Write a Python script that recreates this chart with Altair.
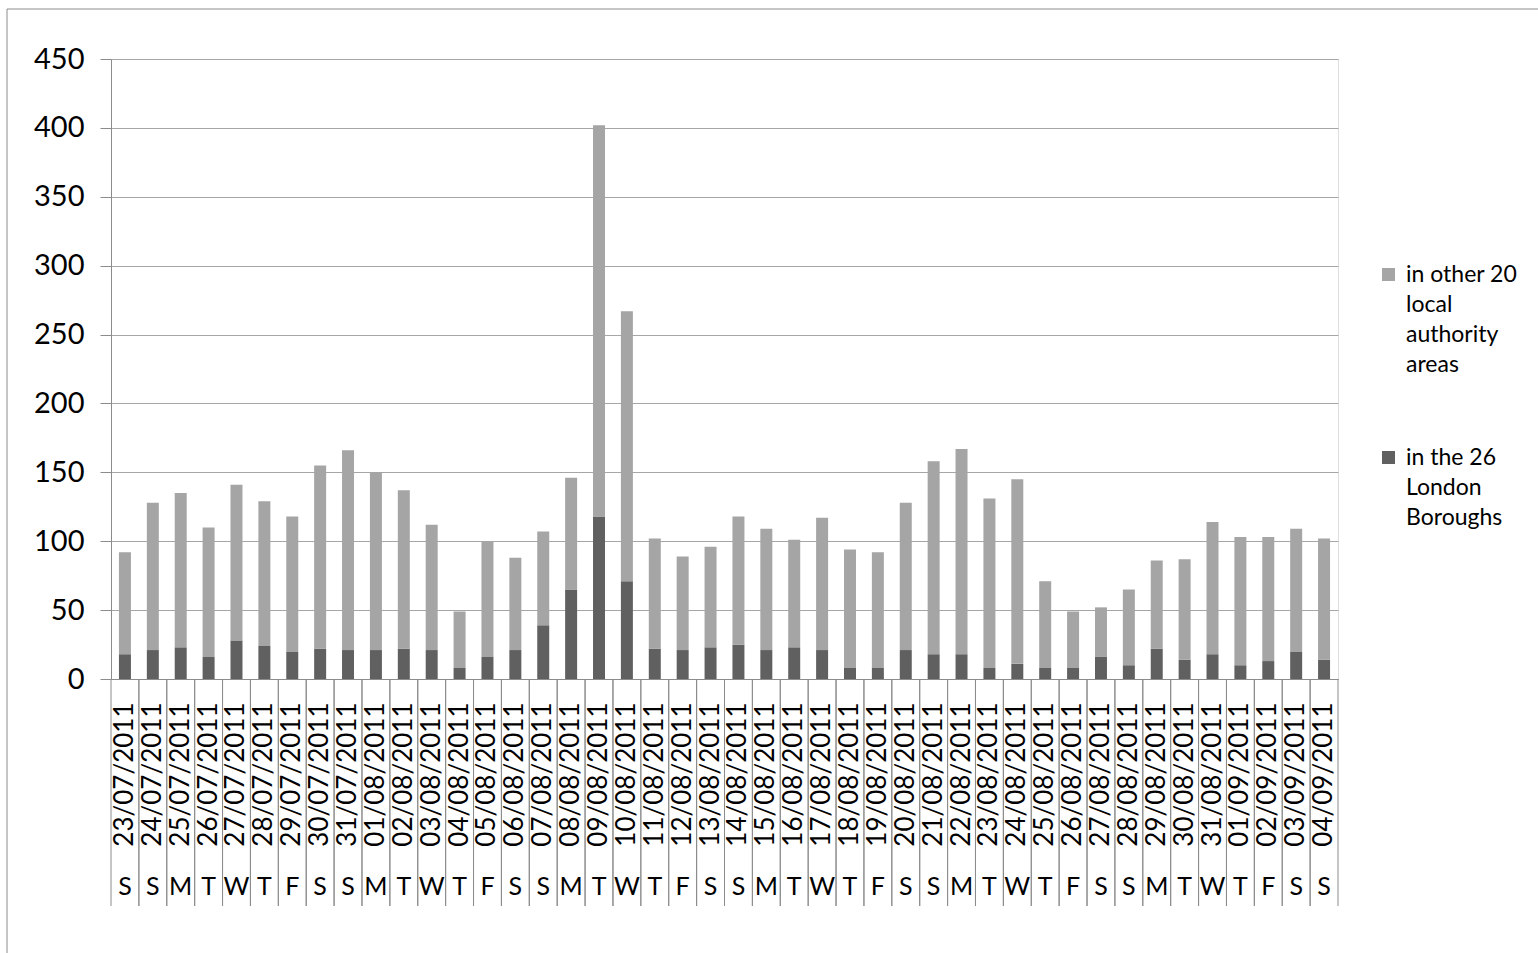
import altair as alt
import pandas as pd

# Daily counts, 23 July - 4 September 2011
dates = [
    "23/07/2011", "24/07/2011", "25/07/2011", "26/07/2011", "27/07/2011", "28/07/2011",
    "29/07/2011", "30/07/2011", "31/07/2011", "01/08/2011", "02/08/2011", "03/08/2011",
    "04/08/2011", "05/08/2011", "06/08/2011", "07/08/2011", "08/08/2011", "09/08/2011",
    "10/08/2011", "11/08/2011", "12/08/2011", "13/08/2011", "14/08/2011", "15/08/2011",
    "16/08/2011", "17/08/2011", "18/08/2011", "19/08/2011", "20/08/2011", "21/08/2011",
    "22/08/2011", "23/08/2011", "24/08/2011", "25/08/2011", "26/08/2011", "27/08/2011",
    "28/08/2011", "29/08/2011", "30/08/2011", "31/08/2011", "01/09/2011", "02/09/2011",
    "03/09/2011", "04/09/2011",
]
weekdays = [
    "S", "S", "M", "T", "W", "T", "F", "S", "S", "M", "T", "W", "T", "F", "S",
    "S", "M", "T", "W", "T", "F", "S", "S", "M", "T", "W", "T", "F", "S", "S",
    "M", "T", "W", "T", "F", "S", "S", "M", "T", "W", "T", "F", "S", "S",
]
london = [
    18, 21, 23, 16, 28, 24, 20, 22, 21, 21, 22, 21, 8, 16, 21, 39, 65, 118, 71, 22, 21, 23,
    25, 21, 23, 21, 8, 8, 21, 18, 18, 8, 11, 8, 8, 16, 10, 22, 14, 18, 10, 13, 20, 14,
]
other = [
    74, 107, 112, 94, 113, 105, 98, 133, 145, 129, 115, 91, 41, 84, 67, 68, 81, 284, 196, 80, 68, 73,
    93, 88, 78, 96, 86, 84, 107, 140, 149, 123, 134, 63, 41, 36, 55, 64, 73, 96, 93, 90, 89, 88,
]
series = ["in other 20\nlocal\nauthority\nareas", "in the 26\nLondon\nBoroughs"]
colors = ["#a5a5a5", "#606060"]
y_ticks = [0, 50, 100, 150, 200, 250, 300, 350, 400, 450]

FONT = "Lato"
W, H = 1227, 620

rows = []
for i, d in enumerate(dates):
    rows.append({"date": d, "series": series[1], "value": london[i], "stack": 0})
    rows.append({"date": d, "series": series[0], "value": other[i], "stack": 1})
df = pd.DataFrame(rows)
days = pd.DataFrame({"date": dates, "day": weekdays})

x_scale = alt.Scale(domain=dates, paddingInner=0, paddingOuter=0)

bars = alt.Chart(df).mark_bar(width={"band": 0.43}).encode(
    x=alt.X(
        "date:N",
        scale=x_scale,
        sort=dates,
        axis=alt.Axis(
            title=None,
            labelAngle=270,
            labelFont=FONT,
            labelFontSize=26,
            labelColor="#000000",
            labelPadding=23,
            ticks=False,
            domainColor="#8c8c8c",
            grid=False,
            labelOverlap=False,
        ),
    ),
    y=alt.Y(
        "value:Q",
        stack="zero",
        scale=alt.Scale(domain=[0, 450], nice=False),
        axis=alt.Axis(
            title=None,
            values=y_ticks,
            labelFont=FONT,
            labelFontSize=29,
            labelColor="#000000",
            labelPadding=16,
            tickSize=11,
            tickColor="#8c8c8c",
            domainColor="#8c8c8c",
            gridColor="#a6a6a6",
        ),
    ),
    color=alt.Color(
        "series:N",
        scale=alt.Scale(domain=series, range=colors),
        legend=alt.Legend(
            title=None,
            orient="none",
            legendX=1266,
            legendY=204,
            padding=0,
            symbolType="square",
            symbolSize=169,
            symbolStrokeWidth=0,
            labelFont=FONT,
            labelFontSize=23,
            labelColor="#000000",
            labelOffset=6,
            labelBaseline="middle",
            labelExpr="split(datum.label, '\\n')",
            rowPadding=69,
            labelLimit=300,
        ),
    ),
    order=alt.Order("stack:Q"),
)

# category separators running down through the label rows
sep_left = alt.Chart(days).mark_rule(color="#8c8c8c", strokeWidth=1).encode(
    x=alt.X("date:N", bandPosition=0, sort=dates),
    y=alt.value(H),
    y2=alt.value(H + 227),
)
sep_right = alt.Chart(days).mark_rule(color="#8c8c8c", strokeWidth=1).encode(
    x=alt.X("date:N", bandPosition=1, sort=dates),
    y=alt.value(H),
    y2=alt.value(H + 227),
)

# weekday initials under the dates
day_text = alt.Chart(days).mark_text(
    font=FONT, fontSize=25, color="#000000", baseline="middle"
).encode(
    x=alt.X("date:N", sort=dates),
    y=alt.value(H + 208),
    text="day:N",
)

# outer chart frame
frame = alt.Chart(pd.DataFrame({"frame": [0]})).mark_rect(
    filled=False, stroke="#8c8c8c", strokeWidth=1
).encode(
    x=alt.value(-104),
    y=alt.value(-50),
    x2=alt.value(W + 400),
    y2=alt.value(H + 400),
)

chart = (
    alt.layer(frame, bars, sep_left, sep_right, day_text)
    .properties(
        width=W,
        height=H,
        autosize=alt.AutoSizeParams(type="none"),
        padding={"left": 111, "top": 59, "right": 200, "bottom": 274},
    )
    .configure_view(stroke=None)
    .configure(background="#ffffff", style={"guide-label": {"lineHeight": 30}})
)

chart.save("out.html", embed_options={"renderer": "svg", "actions": False})
